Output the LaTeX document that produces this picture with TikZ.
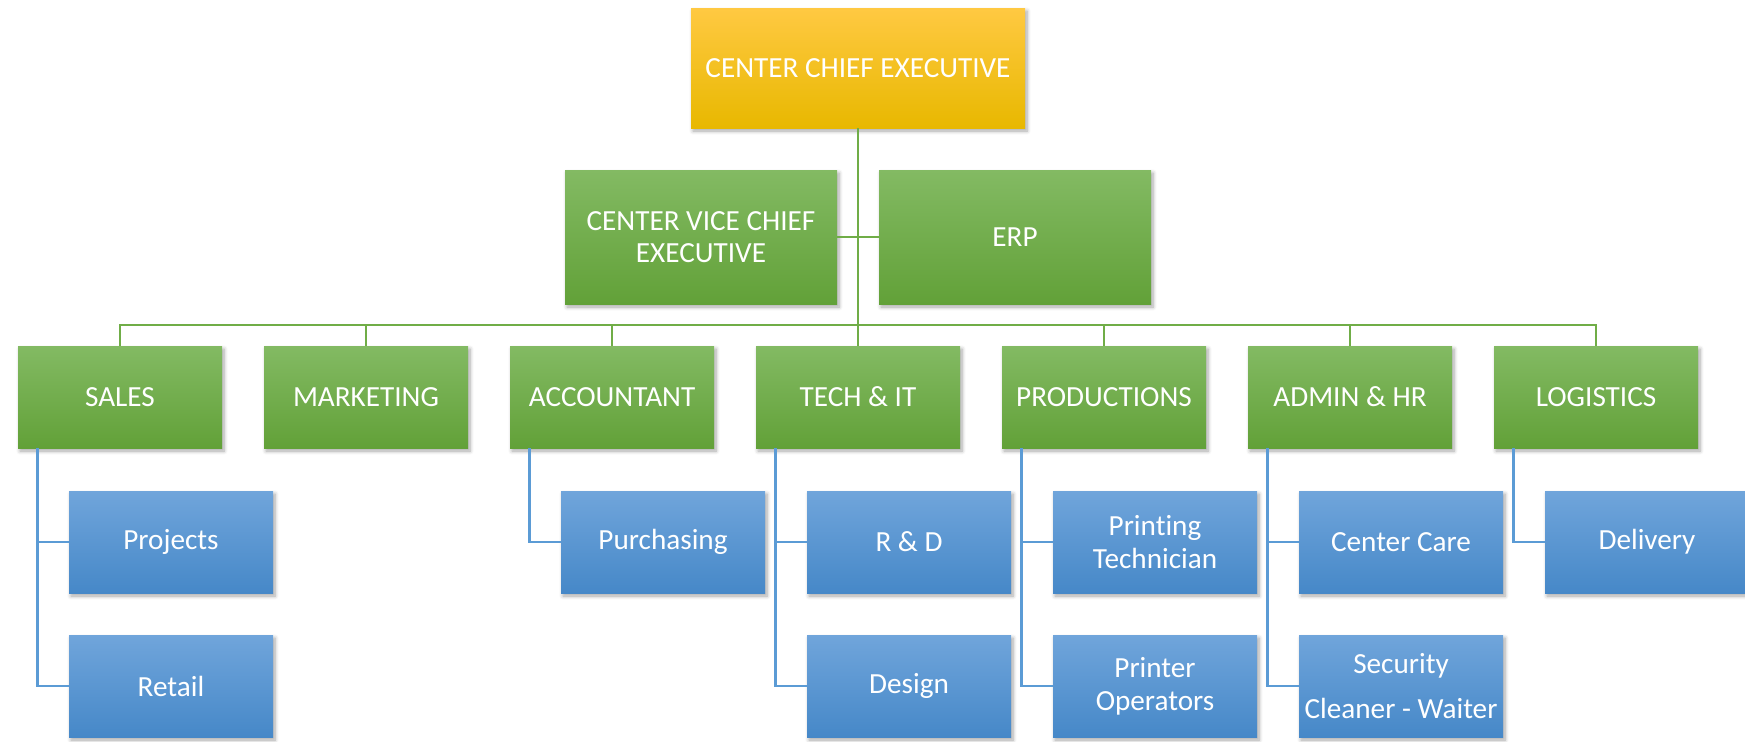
\documentclass[tikz,border=0pt]{standalone}
\usepackage{fontspec}
\setmainfont{Carlito}[Ligatures=NoCommon]
\usetikzlibrary{shadows.blur}

\definecolor{goldtop}{RGB}{255,201,66}
\definecolor{goldbot}{RGB}{232,184,0}
\definecolor{greentop}{RGB}{131,186,99}
\definecolor{greenbot}{RGB}{98,161,56}
\definecolor{bluetop}{RGB}{112,165,219}
\definecolor{bluebot}{RGB}{70,136,200}
\definecolor{greenline}{RGB}{112,173,71}
\definecolor{blueline}{RGB}{91,155,213}

\begin{document}
\begin{tikzpicture}[x=0.5pt, y=-0.5pt,
	box/.style={inner sep=0pt, align=center, text=white, font=\fontsize{14.6}{16.3}\selectfont,
		blur shadow={shadow xshift=1pt, shadow yshift=-1.5pt, shadow blur steps=6, shadow opacity=35}},
	goldbox/.style={box, top color=goldtop, bottom color=goldbot, minimum width=167pt, minimum height=60pt},
	greenbox/.style={box, top color=greentop, bottom color=greenbot, minimum width=102pt, minimum height=51pt},
	widebox/.style={greenbox, minimum width=136pt, minimum height=67pt},
	bluebox/.style={box, top color=bluetop, bottom color=bluebot, minimum width=102pt, minimum height=51pt},
	gline/.style={draw=greenline, line width=1.4pt},
	bline/.style={draw=blueline, line width=1.4pt}]
	\useasboundingbox (0,0) rectangle (1745,741);

	\node (ceo) at (858,68) [goldbox] {CENTER CHIEF EXECUTIVE};
	\node (vice) at (701,237) [widebox] {CENTER VICE CHIEF\\EXECUTIVE};
	\node (erp) at (1015,237) [widebox] {ERP};
	\coordinate (bus) at (858,325);
	\draw[gline] (ceo) -- (bus);
	\draw[gline] (vice) -- (erp);

	\node (sales) at (120,397) [greenbox] {SALES};
	\node (mkt) at (366,397) [greenbox] {MARKETING};
	\node (acc) at (612,397) [greenbox] {ACCOUNTANT};
	\node (tech) at (858,397) [greenbox] {TECH \& IT};
	\node (prod) at (1104,397) [greenbox] {PRODUCTIONS};
	\node (admin) at (1350,397) [greenbox] {ADMIN \& HR};
	\node (logi) at (1596,397) [greenbox] {LOGISTICS};
	\foreach \dept in {sales, mkt, acc, tech, prod, admin, logi}
		\draw[gline] (bus) -| (\dept);

	\node (proj) at (171,542) [bluebox] {Projects};
	\node (retail) at (171,686) [bluebox] {Retail};
	\node (purch) at (663,542) [bluebox] {Purchasing};
	\node (rnd) at (909,542) [bluebox] {R \& D};
	\node (design) at (909,686) [bluebox] {Design};
	\node (ptech) at (1155,542) [bluebox] {Printing\\Technician};
	\node (pop) at (1155,686) [bluebox] {Printer\\Operators};
	\node (care) at (1401,542) [bluebox] {Center Care};
	\node (secu) at (1401,686) [bluebox] {Security\\[6.5pt]Cleaner - Waiter};
	\node (deliv) at (1647,542) [bluebox] {Delivery};
	\draw[bline] ([xshift=10pt]sales.south west) |- (proj);
	\draw[bline] ([xshift=10pt]sales.south west) |- (retail);
	\draw[bline] ([xshift=10pt]acc.south west) |- (purch);
	\draw[bline] ([xshift=10pt]tech.south west) |- (rnd);
	\draw[bline] ([xshift=10pt]tech.south west) |- (design);
	\draw[bline] ([xshift=10pt]prod.south west) |- (ptech);
	\draw[bline] ([xshift=10pt]prod.south west) |- (pop);
	\draw[bline] ([xshift=10pt]admin.south west) |- (care);
	\draw[bline] ([xshift=10pt]admin.south west) |- (secu);
	\draw[bline] ([xshift=10pt]logi.south west) |- (deliv);
\end{tikzpicture}
\end{document}
